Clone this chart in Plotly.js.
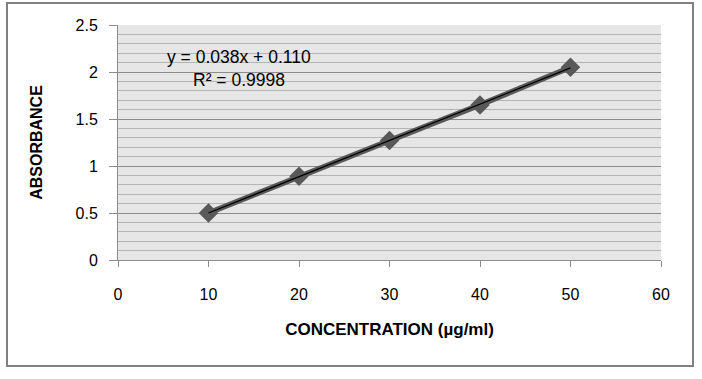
<!DOCTYPE html>
<html>
<head>
<meta charset="utf-8">
<script src="https://cdn.plot.ly/plotly-3.0.1.min.js"></script>
<style>html,body{margin:0;padding:0;background:#fff;}#chart{width:702px;height:379px;}</style>
</head>
<body>
<div id="chart"></div>
<script>
const concentration = [10, 20, 30, 40, 50];
const absorbance = [0.50, 0.89, 1.27, 1.65, 2.05];
const equationText = "y = 0.038x + 0.110";
const r2Text = "R² = 0.9998";
const xTitle = "CONCENTRATION (µg/ml)";
const yTitle = "ABSORBANCE";

// least-squares trendline from the data
const n = concentration.length;
const mx = concentration.reduce((a,b)=>a+b,0)/n;
const my = absorbance.reduce((a,b)=>a+b,0)/n;
let sxy = 0, sxx = 0;
for (let i = 0; i < n; i++) { sxy += (concentration[i]-mx)*(absorbance[i]-my); sxx += (concentration[i]-mx)**2; }
const slope = sxy/sxx, intercept = my - slope*mx;
const trendX = [concentration[0], concentration[n-1]];
const trendY = trendX.map(x => slope*x + intercept);

const font = "Liberation Sans, Arial, sans-serif";
const L = 118, R = 661, T = 25, B = 260, W = 702, H = 379;
const px = v => (v - L)/(R - L);
const py = v => (B - v)/(B - T);

const data = [
  {x: concentration, y: absorbance, type: 'scatter', mode: 'lines+markers',
   line: {color: '#595959', width: 5.5},
   marker: {symbol: 'diamond', size: 15, color: '#595959'},
   hoverinfo: 'x+y', showlegend: false},
  {x: trendX, y: trendY, type: 'scatter', mode: 'lines',
   line: {color: '#000000', width: 1.3}, showlegend: false, hoverinfo: 'skip'}
];

const layout = {
  width: W, height: H,
  margin: {l: L, r: W - R, t: T, b: H - B, pad: 0},
  paper_bgcolor: '#ffffff', plot_bgcolor: '#e6e6e6',
  font: {family: font, size: 15, color: '#000'},
  showlegend: false,
  xaxis: {
    range: [0, 60], dtick: 10, tick0: 0, showgrid: false, zeroline: false,
    showline: true, linecolor: '#8c8c8c', linewidth: 1,
    ticks: 'outside', ticklen: 6, tickcolor: '#8c8c8c',
    tickfont: {family: font, size: 16, color: '#000'}, ticklabelstandoff: 14,
    title: {text: xTitle, font: {family: font, size: 17, color: '#000', weight: 'bold'}, standoff: 20}
  },
  yaxis: {
    range: [0, 2.5], dtick: 0.5, tick0: 0, showgrid: true, gridcolor: '#8c8c8c', gridwidth: 1,
    zeroline: false, showline: true, linecolor: '#8c8c8c', linewidth: 1,
    ticks: 'outside', ticklen: 8, tickcolor: '#8c8c8c',
    minor: {dtick: 0.1, showgrid: true, gridcolor: '#b4b4b4', gridwidth: 1, ticks: ''},
    tickfont: {family: font, size: 16, color: '#000'}, ticklabelstandoff: 8,
    title: {text: yTitle, font: {family: font, size: 16, color: '#000', weight: 'bold'}, standoff: 28}
  },
  annotations: [
    {xref: 'paper', yref: 'paper', x: px(239), y: py(57), text: equationText, showarrow: false,
     font: {family: font, size: 17.5, color: '#000'}, xanchor: 'center', yanchor: 'middle'},
    {xref: 'paper', yref: 'paper', x: px(239), y: py(80), text: r2Text, showarrow: false,
     font: {family: font, size: 17.5, color: '#000'}, xanchor: 'center', yanchor: 'middle'}
  ],
  shapes: [
    {type: 'rect', xref: 'paper', yref: 'paper', x0: px(7), x1: px(693), y0: py(366), y1: py(3),
     line: {color: '#808080', width: 2}, fillcolor: 'rgba(0,0,0,0)', layer: 'below'}
  ]
};

Plotly.newPlot('chart', data, layout, {displayModeBar: false, staticPlot: true});
</script>
</body>
</html>
